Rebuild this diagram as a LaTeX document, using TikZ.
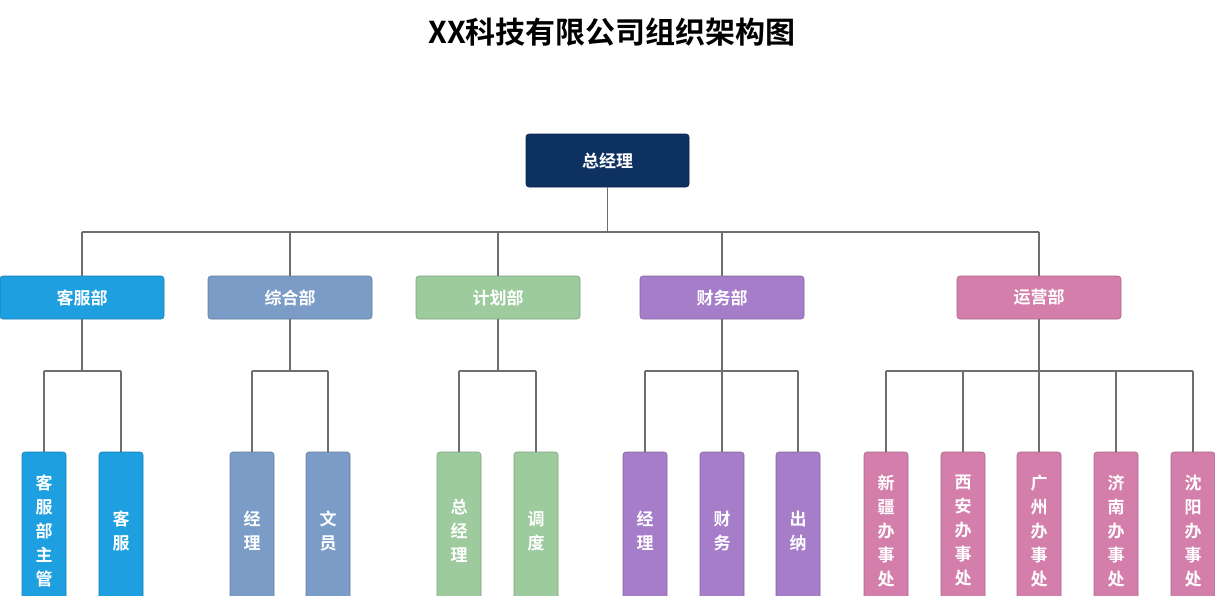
\documentclass[tikz,border=0pt]{standalone}
\usepackage{fontspec}
\setmainfont{Noto Sans CJK SC}[BoldFont={Noto Sans CJK SC Bold}]
\definecolor{navy}{HTML}{0D3160}
\definecolor{cA}{HTML}{1E9FE0}
\definecolor{cB}{HTML}{7A9CC6}
\definecolor{cC}{HTML}{9DCB9D}
\definecolor{cD}{HTML}{A57DC9}
\definecolor{cE}{HTML}{D47FAB}
\definecolor{ln}{HTML}{6E6E6E}
\begin{document}
\begin{tikzpicture}[x=1pt,y=-1pt,
 box/.style={rounded corners=3pt,draw=#1!80!black,line width=0.6pt,fill=#1,text=white,font=\bfseries\fontsize{17}{20}\selectfont,inner sep=0pt},
 dept/.style={box=#1,minimum width=164pt,minimum height=43pt},
 leaf/.style={box=#1,minimum width=44pt,minimum height=158pt,align=center,font=\bfseries\fontsize{17}{24}\selectfont},
 conn/.style={draw=ln,line width=1.8pt}]
\useasboundingbox (0,0) rectangle (1215,595);
\begin{scope}
\clip (0,0) rectangle (1215,595);
\node[font=\bfseries\fontsize{30}{34}\selectfont] (title) at (612,32) {XX科技有限公司组织架构图};
\node[box=navy,minimum width=163pt,minimum height=53pt] (gm) at (607.5,160.5) {总经理};
\coordinate (h) at (607.5,232);
\foreach \n/\x/\c/\t in {d1/82/cA/客服部,d2/290/cB/综合部,d3/498/cC/计划部,d4/722/cD/财务部,d5/1039/cE/运营部}{
  \node[dept=\c] (\n) at (\x,297.5) {\t};
  \coordinate (\n t) at (\x,232);
  \coordinate (\n b) at (\x,371);
}
\draw[conn] (gm) -- (h);
\draw[conn] (d1t) -- (d5t);
\foreach \n in {d1,d2,d3,d4,d5}{\draw[conn] (\n t) -- (\n); \draw[conn] (\n) -- (\n b);}
\foreach \n/\x/\c/\t/\p in {
 l1/44/cA/{客\\服\\部\\主\\管}/d1, l2/121/cA/{客\\服}/d1,
 l3/252/cB/{经\\理}/d2, l4/328/cB/{文\\员}/d2,
 l5/459/cC/{总\\经\\理}/d3, l6/536/cC/{调\\度}/d3,
 l7/645/cD/{经\\理}/d4, l8/722/cD/{财\\务}/d4, l9/798/cD/{出\\纳}/d4,
 l10/886/cE/{新\\疆\\办\\事\\处}/d5, l11/963/cE/{西\\安\\办\\事\\处}/d5, l12/1039/cE/{广\\州\\办\\事\\处}/d5,
 l13/1116/cE/{济\\南\\办\\事\\处}/d5, l14/1193/cE/{沈\\阳\\办\\事\\处}/d5}{
  \node[leaf=\c] (\n) at (\x,531) {\t};
  \coordinate (\n t) at (\x,371);
  \draw[conn] (\n t) -- (\n);
}
\draw[conn] (l1t) -- (l2t);
\draw[conn] (l3t) -- (l4t);
\draw[conn] (l5t) -- (l6t);
\draw[conn] (l7t) -- (l9t);
\draw[conn] (l10t) -- (l14t);
\end{scope}
\end{tikzpicture}
\end{document}
